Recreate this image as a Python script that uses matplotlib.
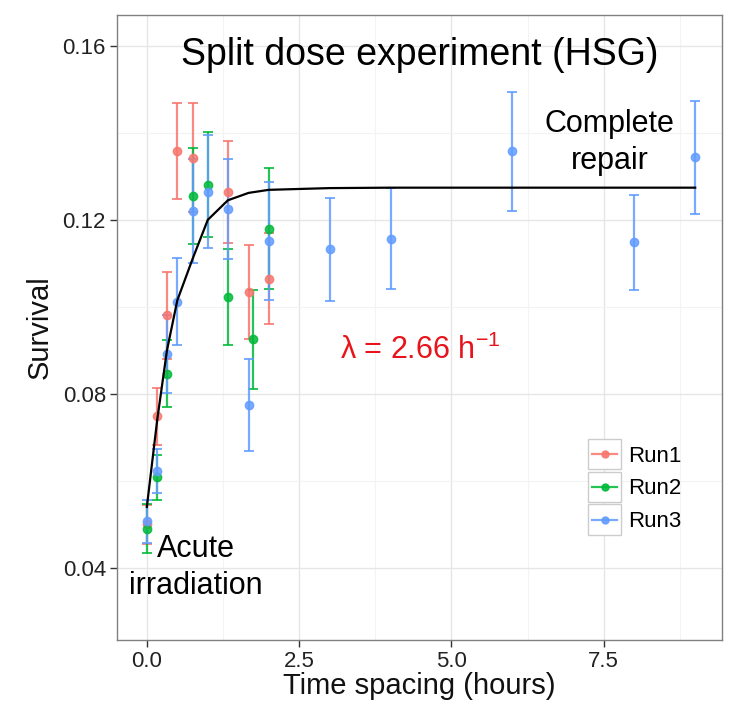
import matplotlib
matplotlib.use("Agg")
import matplotlib.pyplot as plt
from matplotlib.ticker import MultipleLocator
from matplotlib.lines import Line2D
from matplotlib.patches import Rectangle
from matplotlib.legend_handler import HandlerBase

plt.rcParams['font.family'] = ['Liberation Sans', 'DejaVu Sans']
plt.rcParams['mathtext.fontset'] = 'custom'
plt.rcParams['mathtext.rm'] = 'Liberation Sans'
plt.rcParams['mathtext.it'] = 'Liberation Sans:italic'

# ---- data ----
run1_t = [0.0, 0.17, 0.33, 0.5, 0.75, 1.33, 1.67, 2.0]
run1_s = [0.0500, 0.0748, 0.0981, 0.1358, 0.1343, 0.1264, 0.1034, 0.1065]
run1_e = [0.0045, 0.0065, 0.0100, 0.0110, 0.0125, 0.0118, 0.0108, 0.0105]

run2_t = [0.0, 0.17, 0.33, 0.75, 1.0, 1.33, 1.75, 2.0]
run2_s = [0.0490, 0.0608, 0.0846, 0.1255, 0.1281, 0.1023, 0.0925, 0.1180]
run2_e = [0.0057, 0.0052, 0.0077, 0.0110, 0.0120, 0.0110, 0.0113, 0.0140]

run3_t = [0.0, 0.17, 0.33, 0.5, 0.75, 1.0, 1.33, 1.67, 2.0, 3.0, 4.0, 6.0, 8.0, 9.0]
run3_s = [0.0507, 0.0622, 0.0891, 0.1012, 0.1220, 0.1265, 0.1224, 0.0774,
          0.1151, 0.1132, 0.1157, 0.1358, 0.1148, 0.1344]
run3_e = [0.0050, 0.0050, 0.0090, 0.0100, 0.0120, 0.0130, 0.0115, 0.0105,
          0.0136, 0.0118, 0.0117, 0.0137, 0.0110, 0.0130]

fit_t = [0.0, 0.17, 0.33, 0.5, 0.75, 1.0, 1.33, 1.67, 2.0, 3.0, 4.0, 6.0, 8.0, 9.0]
fit_s = [0.0540, 0.0740, 0.0900, 0.1015, 0.1110, 0.1200, 0.1245, 0.1262,
         0.1269, 0.1273, 0.1274, 0.1274, 0.1274, 0.1274]

run_names = ['Run1', 'Run2', 'Run3']
run_colors = ['#F8766D', '#00BA38', '#619CFF']

x_ticks = [0.0, 2.5, 5.0, 7.5]
x_ticklabels = ['0.0', '2.5', '5.0', '7.5']
y_ticks = [0.04, 0.08, 0.12, 0.16]
y_ticklabels = ['0.04', '0.08', '0.12', '0.16']

LEG_FS = 16
LEG_SPACING = 0.46


class KeyHandler(HandlerBase):
    """ggplot-like legend key: grey-bordered box with line + point."""
    def create_artists(self, legend, orig_handle, xdescent, ydescent,
                       width, height, fontsize, trans):
        c = orig_handle.get_color()
        pad = LEG_SPACING * fontsize / 2
        box = Rectangle((-xdescent, -ydescent - pad), width, height + 2 * pad,
                        facecolor='white', edgecolor='#cccccc', lw=1.0,
                        transform=trans)
        yc = -ydescent + height / 2
        line = Line2D([-xdescent + 0.12 * width, -xdescent + 0.88 * width], [yc, yc],
                      color=c, lw=1.6, alpha=0.85, transform=trans)
        dot = Line2D([-xdescent + width / 2], [yc], marker='o', markersize=5,
                     color=c, alpha=0.9, transform=trans)
        return [box, line, dot]


# ---- figure ----
fig = plt.figure(figsize=(7.35, 7.12), dpi=100)
ax = fig.add_axes([117/735, 1 - 640/712, (722-117)/735, (640-15)/712])

series = [(run1_t, run1_s, run1_e), (run2_t, run2_s, run2_e), (run3_t, run3_s, run3_e)]
for (t, s, e), c in zip(series, run_colors):
    ax.errorbar(t, s, yerr=e, fmt='o', color=c, ecolor=c, elinewidth=1.6,
                capsize=3.5, capthick=1.4, markersize=6, alpha=0.85, zorder=3)

ax.plot(fit_t, fit_s, color='black', lw=1.6, zorder=4)

ax.set_xlim(-0.49, 9.44)
ax.set_ylim(0.0234, 0.1671)
ax.set_xticks(x_ticks)
ax.set_xticklabels(x_ticklabels)
ax.set_yticks(y_ticks)
ax.set_yticklabels(y_ticklabels)
ax.xaxis.set_minor_locator(MultipleLocator(1.25))
ax.yaxis.set_minor_locator(MultipleLocator(0.02))

ax.grid(True, which='major', color='#e6e6e6', lw=1.0, zorder=0)
ax.grid(True, which='minor', color='#f3f3f3', lw=0.8, zorder=0)
ax.set_axisbelow(True)
ax.tick_params(which='minor', length=0)
ax.tick_params(which='major', length=5, width=1.0, color='#333333',
               labelsize=16, labelcolor='#222222', pad=3)
for sp in ax.spines.values():
    sp.set_color('#808080')
    sp.set_linewidth(1.0)

ax.set_xlabel('Time spacing (hours)', fontsize=21, labelpad=0, color='#111111')
ax.set_ylabel('Survival', fontsize=21, labelpad=6, color='#111111')

ax.text(4.48, 0.1579, 'Split dose experiment (HSG)', fontsize=27,
        ha='center', va='center', color='black', zorder=6)
ax.text(7.6, 0.1378, 'Complete\nrepair', fontsize=22, ha='center', va='center',
        linespacing=1.3, zorder=6)
ax.text(0.8, 0.0401, 'Acute\nirradiation', fontsize=22, ha='center', va='center',
        linespacing=1.3, zorder=6)
ax.text(4.48, 0.0900, 'λ = 2.66 h$^{-1}$', fontsize=22,
        ha='center', va='center', color='#e8141b', zorder=6)

handles = [Line2D([0], [0], color=c) for c in run_colors]
leg = ax.legend(handles, run_names, loc='upper left',
                bbox_to_anchor=((588-117)/605, 1 - (444-15)/625),
                frameon=False, fontsize=LEG_FS, handlelength=1.5, handleheight=1.0,
                handletextpad=0.3, labelspacing=LEG_SPACING, borderaxespad=0,
                borderpad=0, handler_map={Line2D: KeyHandler()})

fig.savefig('out.png', dpi=100, facecolor='white')
